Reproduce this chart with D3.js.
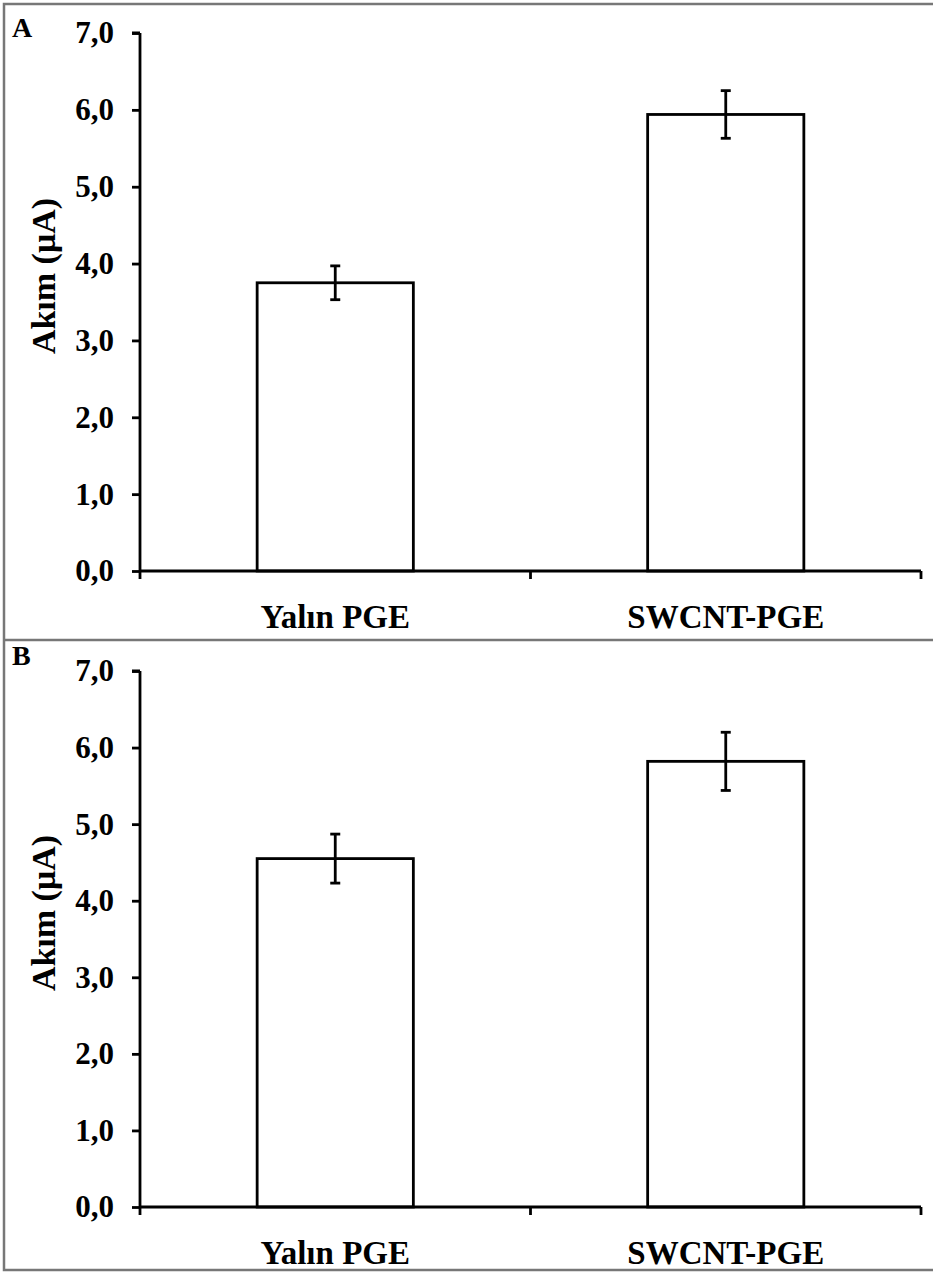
<!DOCTYPE html>
<html>
<head>
<meta charset="utf-8">
<script src="https://cdn.jsdelivr.net/npm/d3@7"></script>
<style>
  body { margin: 0; background: #fff; }
  text { font-family: "Liberation Serif", "Times New Roman", serif; font-weight: bold; fill: #000; }
</style>
</head>
<body>
<script>
// data
var categories = ["Yalın PGE", "SWCNT-PGE"];
var panelLabels = ["A", "B"];
var valuesA = [3.75, 5.94];
var errorsA = [0.22, 0.31];
var valuesB = [4.55, 5.82];
var errorsB = [0.32, 0.38];
var yTicks = [0, 1, 2, 3, 4, 5, 6, 7];
var yLabel = "Akım (μA)";

var W = 933, H = 1272;
var svg = d3.select("body").append("svg")
    .attr("width", W)
    .attr("height", H);

// frame
svg.append("rect")
    .attr("x", 4).attr("y", 4)
    .attr("width", W + 10).attr("height", H - 6)
    .attr("fill", "none").attr("stroke", "#777").attr("stroke-width", 2.5);
svg.append("line")
    .attr("x1", 4).attr("x2", W).attr("y1", 640).attr("y2", 640)
    .attr("stroke", "#777").attr("stroke-width", 2.5);

var panels = [
    { label: panelLabels[0], values: valuesA, errors: errorsA, top: 33, bottom: 571, labelY: 37 },
    { label: panelLabels[1], values: valuesB, errors: errorsB, top: 671, bottom: 1207, labelY: 665 }
];

panels.forEach(function (p) {
    var g = svg.append("g");

    var x = d3.scaleBand().domain(categories).range([140, 921]).paddingInner(0).paddingOuter(0);
    var y = d3.scaleLinear().domain([0, 7]).range([p.bottom, p.top]);
    var barW = x.bandwidth() * 0.4;

    // bars
    g.selectAll(".bar").data(p.values).enter().append("rect")
        .attr("x", function (d, i) { return x(categories[i]) + x.bandwidth() / 2 - barW / 2 })
        .attr("y", function (d) { return y(d) })
        .attr("width", barW)
        .attr("height", function (d) { return y(0) - y(d) })
        .attr("fill", "#fff").attr("stroke", "#000").attr("stroke-width", 2.8);

    // error bars
    p.values.forEach(function (v, i) {
        var cx = x(categories[i]) + x.bandwidth() / 2;
        var e = p.errors[i];
        g.append("line").attr("x1", cx).attr("x2", cx)
            .attr("y1", y(v - e)).attr("y2", y(v + e))
            .attr("stroke", "#000").attr("stroke-width", 2.8);
        [v - e, v + e].forEach(function (t) {
            g.append("line").attr("x1", cx - 5).attr("x2", cx + 5)
                .attr("y1", y(t)).attr("y2", y(t))
                .attr("stroke", "#000").attr("stroke-width", 2.8);
        });
    });

    // y axis
    var ya = g.append("g").attr("transform", "translate(140,0)")
        .call(d3.axisLeft(y).tickValues(yTicks).tickSize(8).tickPadding(18)
            .tickFormat(function (d) { return d3.format(".1f")(d).replace(".", ",") }));
    ya.select(".domain").attr("stroke", "#000").attr("stroke-width", 2.8)
        .attr("d", "M0," + y(7) + "H-8M0," + y(7) + "V" + y(0));
    ya.selectAll(".tick line").attr("stroke", "#000").attr("stroke-width", 2.8);
    ya.selectAll(".tick text").attr("font-size", 31).attr("font-family", "Liberation Serif").attr("font-weight", "bold").attr("fill", "#000");

    // x axis
    var xa = g.append("g").attr("transform", "translate(0," + y(0) + ")")
        .call(d3.axisBottom(x).tickSize(0).tickPadding(34));
    xa.select(".domain").attr("stroke", "#000").attr("stroke-width", 2.8)
        .attr("d", "M140,0H921");
    xa.selectAll(".tick text").attr("font-size", 33).attr("font-family", "Liberation Serif").attr("font-weight", "bold").attr("fill", "#000");
    [140, 140 + x.bandwidth(), 921].forEach(function (t) {
        xa.append("line").attr("x1", t).attr("x2", t).attr("y1", 0).attr("y2", 8)
            .attr("stroke", "#000").attr("stroke-width", 2.8);
    });

    // y label
    g.append("text")
        .attr("transform", "translate(55," + ((y(0) + y(7)) / 2 - 26) + ") rotate(-90)")
        .attr("text-anchor", "middle")
        .attr("font-size", 34)
        .text(yLabel);

    // panel label
    g.append("text").attr("x", 12).attr("y", p.labelY).attr("font-size", 28).text(p.label);
});
</script>
</body>
</html>
